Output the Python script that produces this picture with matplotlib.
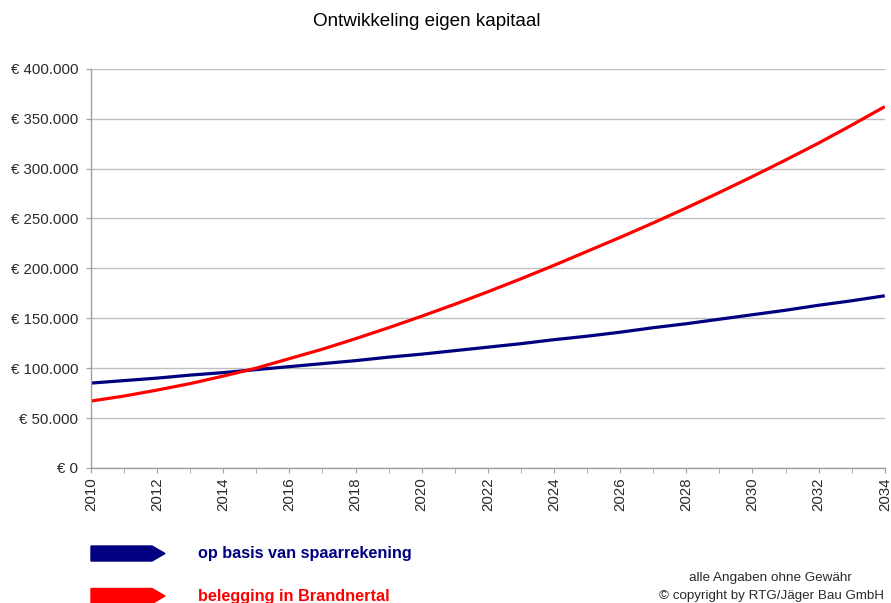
import matplotlib
matplotlib.use("Agg")
import matplotlib.pyplot as plt
from matplotlib.patches import Polygon
from matplotlib.ticker import FuncFormatter, MultipleLocator

# data (values in euro)
years = list(range(2010, 2035))
spaarrekening = [85000, 87500, 90000, 93000, 95500, 98500, 101500, 104500,
                 107500, 111000, 114000, 117500, 121000, 124500, 128500,
                 132000, 136000, 140500, 144500, 149000, 153500, 158000,
                 163000, 167500, 172500]
brandnertal = [67000, 72000, 78000, 84500, 92000, 100000, 109500, 119000,
               129500, 140500, 152000, 164000, 176500, 189500, 203000,
               217000, 231000, 245500, 260500, 276000, 292000, 308500,
               325500, 343500, 362000]
series_names = ["op basis van spaarrekening", "belegging in Brandnertal"]

NAVY = "#000080"
RED = "#ff0000"
GRID = "#c0c0c0"
TEXT = "#2a2a2a"

plt.rcParams["font.family"] = ["Liberation Sans", "DejaVu Sans"]


def euro(v, pos):
    if v == 0:
        return "€ 0"
    return "€ " + f"{int(v):,}".replace(",", ".")


def main() -> None:
    fig = plt.figure(figsize=(8.91, 6.03), dpi=100)
    ax = fig.add_axes([0.102, 0.224, 0.891, 0.662])

    ax.plot(years, spaarrekening, color=NAVY, lw=2.3, solid_capstyle="butt")
    ax.plot(years, brandnertal, color=RED, lw=2.3, solid_capstyle="butt")

    ax.set_xlim(2010, 2034)
    ax.set_ylim(0, 400000)
    ax.yaxis.set_major_locator(MultipleLocator(50000))
    ax.yaxis.set_major_formatter(FuncFormatter(euro))
    ax.xaxis.set_major_locator(MultipleLocator(2))
    ax.xaxis.set_minor_locator(MultipleLocator(1))
    ax.grid(axis="y", color=GRID, lw=1.0)
    ax.set_axisbelow(True)

    for s in ("top", "right"):
        ax.spines[s].set_visible(False)
    for s in ("left", "bottom"):
        ax.spines[s].set_color("#a0a0a0")
        ax.spines[s].set_linewidth(1.0)

    ax.tick_params(axis="both", which="both", colors="#a0a0a0",
                   labelcolor=TEXT, labelsize=10.8, length=3.6)
    ax.tick_params(axis="x", which="major", labelrotation=90, pad=3)
    ax.tick_params(axis="y", pad=5.5)

    fig.text(427 / 891, 1 - 22 / 603, "Ontwikkeling eigen kapitaal",
             ha="center", va="center", fontsize=13.6, color="black")

    # legend with arrow shaped markers
    colors = [NAVY, RED]
    ys = [553.5, 596]
    W, H = 891.0, 603.0
    for name, col, yp in zip(series_names, colors, ys):
        pts = [(91, yp - 7.5), (152, yp - 7.5), (165, yp),
               (152, yp + 7.5), (91, yp + 7.5)]
        pts = [(x / W, 1 - y / H) for x, y in pts]
        fig.patches.append(Polygon(pts, closed=True, color=col,
                                   transform=fig.transFigure))
        fig.text(198 / W, 1 - yp / H, name, color=col, fontsize=11.7,
                 fontweight="bold", ha="left", va="center")

    fig.text(770 / W, 1 - 578 / H, "alle Angaben ohne Gewähr", ha="center",
             va="center", fontsize=9.7, color=TEXT)
    fig.text(884 / W, 1 - 596 / H, "© copyright by RTG/Jäger Bau GmbH",
             ha="right", va="center", fontsize=9.6, color=TEXT)

    fig.savefig("out.png", dpi=100)


if __name__ == "__main__":
    main()
